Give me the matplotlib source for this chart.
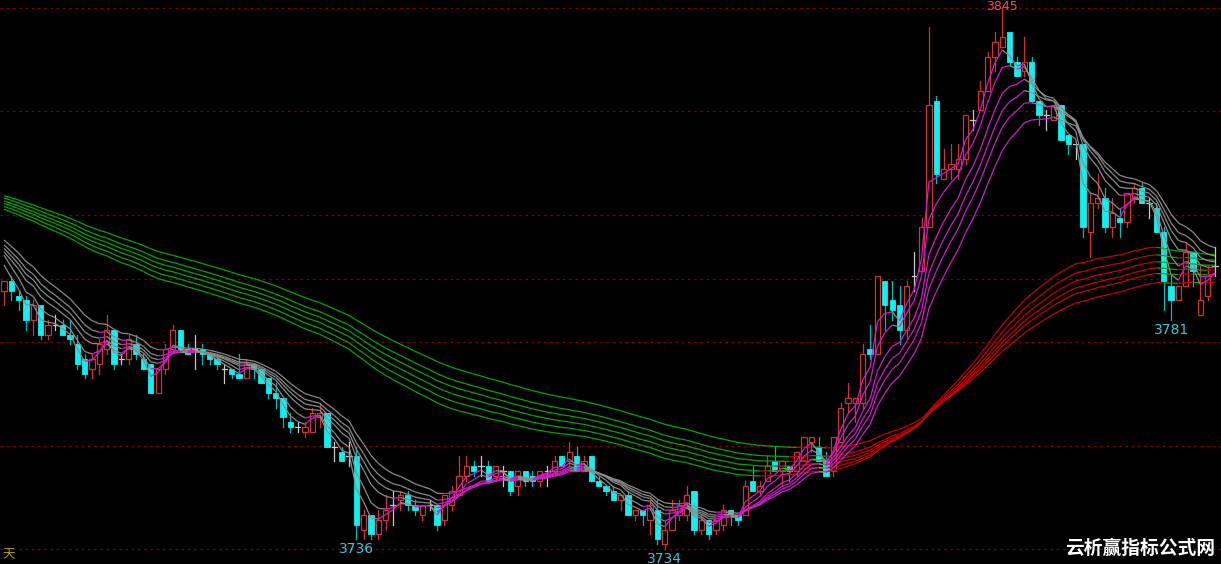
import numpy as np
import matplotlib
matplotlib.use('Agg')
import matplotlib.pyplot as plt
from matplotlib.collections import LineCollection
from matplotlib.patches import Rectangle

# ---------------- data ----------------
opens = [3787,3789,3786,3785,3781,3784,3778,3780,3780,3778,
         3776,3773,3771,3772,3775,3779,3773,3773,3776,3773,
         3772,3766,3771,3775,3779,3775,3775,3775,3774,3773,
         3771,3771,3770,3769,3772,3771,3769,3766,3765,3760,
         3759,3758,3758,3761,3762,3755,3754,3753,3753,3738,
         3741,3737,3740,3743,3744,3745,3743,3741,3743,3743,
         3740,3743,3745,3749,3751,3751,3751,3749,3750,3750,
         3747,3750,3749,3748,3750,3750,3753,3752,3753,3750,
         3753,3748,3747,3746,3744,3745,3741,3742,3740,3742,
         3735,3738,3741,3741,3746,3738,3740,3738,3739,3742,
         3741,3741,3748,3746,3748,3752,3750,3751,3750,3752,
         3756,3755,3752,3750,3756,3764,3764,3764,3775,3774,
         3789,3785,3784,3779,3790,3791,3800,3826,3810,3812,
         3812,3814,3822,3824,3828,3835,3837,3840,3834,3832,
         3834,3826,3823,3822,3825,3819,3817,3817,3799,3805,
         3806,3800,3802,3801,3806,3808,3805,3804,3799,3788,
         3785,3788,3795,3782,3786,3792]
highs = [3789,3790,3787,3786,3785,3784,3781,3782,3781,3781,
         3778,3774,3774,3777,3782,3779,3774,3778,3778,3774,
         3772,3771,3776,3780,3779,3776,3778,3776,3774,3774,
         3772,3771,3774,3773,3772,3771,3769,3768,3765,3762,
         3760,3760,3763,3764,3762,3756,3755,3756,3755,3742,
         3741,3742,3745,3746,3746,3746,3744,3743,3744,3743,
         3745,3747,3753,3753,3752,3753,3752,3751,3751,3750,
         3750,3750,3750,3750,3751,3753,3753,3756,3755,3753,
         3753,3749,3747,3747,3745,3746,3742,3742,3744,3744,
         3740,3744,3744,3747,3746,3741,3740,3740,3743,3742,
         3741,3748,3751,3748,3753,3755,3752,3751,3754,3757,
         3757,3757,3754,3757,3764,3768,3765,3776,3780,3790,
         3789,3789,3788,3789,3795,3802,3841,3827,3816,3817,
         3817,3823,3824,3830,3836,3840,3845,3840,3835,3839,
         3835,3826,3824,3825,3825,3819,3817,3817,3807,3811,
         3808,3806,3804,3807,3809,3809,3806,3805,3800,3790,
         3788,3797,3795,3792,3792,3796]
lows = [3784,3785,3783,3779,3778,3777,3777,3779,3778,3776,
        3771,3769,3769,3770,3774,3771,3772,3772,3773,3771,
        3766,3766,3770,3775,3775,3774,3771,3772,3772,3771,
        3768,3769,3769,3769,3769,3768,3765,3763,3759,3758,
        3758,3757,3758,3759,3755,3752,3752,3751,3736,3736,
        3736,3736,3738,3739,3742,3742,3741,3740,3742,3738,
        3739,3742,3745,3748,3749,3749,3748,3748,3747,3745,
        3745,3747,3747,3747,3747,3749,3751,3751,3750,3750,
        3748,3747,3745,3744,3742,3741,3740,3739,3737,3735,
        3734,3738,3740,3740,3737,3737,3736,3737,3738,3739,
        3739,3741,3746,3745,3748,3750,3747,3748,3749,3752,
        3754,3752,3749,3749,3756,3762,3760,3763,3773,3774,
        3779,3781,3776,3777,3787,3791,3800,3809,3810,3810,
        3810,3813,3820,3824,3828,3832,3837,3833,3831,3831,
        3826,3821,3820,3822,3818,3815,3814,3798,3794,3804,
        3799,3798,3798,3800,3805,3805,3802,3799,3783,3781,
        3785,3788,3788,3782,3785,3790]
closes = [3789,3787,3785,3781,3784,3778,3780,3780,3778,3777,
          3772,3770,3773,3776,3779,3772,3773,3777,3774,3771,
          3766,3771,3775,3779,3775,3774,3775,3774,3773,3772,
          3771,3770,3769,3772,3771,3768,3766,3765,3761,3759,
          3759,3759,3762,3762,3755,3755,3752,3753,3739,3741,
          3737,3740,3742,3743,3745,3743,3742,3743,3743,3739,
          3745,3746,3749,3751,3750,3751,3748,3751,3750,3746,
          3750,3748,3748,3750,3750,3752,3751,3754,3750,3752,
          3748,3747,3746,3744,3745,3741,3742,3741,3743,3736,
          3738,3742,3743,3745,3738,3740,3737,3740,3742,3741,
          3740,3747,3746,3747,3751,3750,3752,3750,3754,3757,
          3757,3752,3749,3757,3763,3765,3765,3774,3774,3790,
          3784,3783,3779,3788,3790,3800,3825,3811,3812,3813,
          3814,3823,3822,3828,3835,3838,3839,3834,3831,3834,
          3826,3823,3823,3825,3818,3817,3817,3800,3805,3806,
          3800,3803,3801,3807,3808,3805,3805,3799,3789,3785,
          3788,3795,3791,3785,3790,3792]

short_periods = [3, 5, 8, 10, 12, 15]
short_seeds = [3792.3, 3794.3, 3795.0, 3795.7, 3796.4, 3797.4]
long_periods = [60, 65, 70, 75, 80, 90]
long_seeds = [3803.7, 3804.3, 3804.9, 3805.4, 3806.0, 3806.5]

fib_high = 3845
fib_low = 3734
fib_ratios = [0.0, 0.191, 0.382, 0.5, 0.618, 0.809, 1.0]

high_label_idx = 136
low_label_idx = [48, 90, 159]

# ---------------- styling ----------------
BG = '#000000'
UP = '#d03434'
DOWN = '#10f0f0'
DOWN_WICK = '#00b8b8'
DOJI = '#c8c8c8'
GRID = '#8a0000'
SHORT_UP = '#d21cc8'
SHORT_DN = '#8c8c8c'
LONG_UP = '#c80000'
LONG_DN = '#00a800'
BODY_W = 0.72

n = len(closes)
x = np.arange(n)

fig = plt.figure(figsize=(12.21, 5.64), dpi=100, facecolor=BG)
ax = fig.add_axes([0, 0, 1, 1], facecolor=BG)
ax.set_xlim(-0.545, 165.8)
ax.set_ylim(3730.93, 3846.64)
ax.axis('off')

# fibonacci grid
for r in fib_ratios:
    lvl = fib_high - (fib_high - fib_low) * r
    ax.axhline(lvl, color=GRID, lw=0.9, ls=(0, (2, 3)), zorder=1)

# candles
for i in range(n):
    o, h, l, c = opens[i], highs[i], lows[i], closes[i]
    if c > o:
        ax.add_patch(Rectangle((i - BODY_W / 2, o), BODY_W, c - o,
                               facecolor=BG, edgecolor=UP, lw=0.9, zorder=3))
        if h > c:
            ax.plot([i, i], [c, h], color=UP, lw=0.9, zorder=2)
        if l < o:
            ax.plot([i, i], [l, o], color=UP, lw=0.9, zorder=2)
    elif c < o:
        ax.plot([i, i], [l, h], color=DOWN_WICK, lw=0.9, zorder=2)
        ax.add_patch(Rectangle((i - BODY_W / 2, c), BODY_W, o - c,
                               facecolor=DOWN, edgecolor=DOWN, lw=0.6, zorder=3))
    else:
        ax.plot([i, i], [l, h], color=DOJI, lw=0.9, zorder=3)
        ax.plot([i - BODY_W / 2, i + BODY_W / 2], [c, c], color=DOJI, lw=0.9, zorder=3)


def ema(values, period, seed):
    a = 2.0 / (period + 1)
    out = np.empty(len(values))
    out[0] = seed
    for k in range(1, len(values)):
        out[k] = a * values[k] + (1 - a) * out[k - 1]
    return out


def draw_group(periods, seeds, up_col, dn_col, z):
    for p, s in zip(periods, seeds):
        e = ema(np.asarray(closes, float), p, s)
        segs = [[(x[k - 1], e[k - 1]), (x[k], e[k])] for k in range(1, n)]
        cols = [up_col if e[k] >= e[k - 1] else dn_col for k in range(1, n)]
        ax.add_collection(LineCollection(segs, colors=cols, linewidths=0.9, zorder=z))


draw_group(long_periods, long_seeds, LONG_UP, LONG_DN, 4)
draw_group(short_periods, short_seeds, SHORT_UP, SHORT_DN, 5)

# extreme labels
ax.annotate(str(highs[high_label_idx]), xy=(high_label_idx, 3846.64),
            xytext=(0, -0.3), textcoords='offset points', ha='center', va='top',
            color='#ff4a4a', fontsize=9, zorder=6)
for idx in low_label_idx:
    ax.annotate(str(lows[idx]), xy=(idx, lows[idx]), xytext=(0, -2),
                textcoords='offset points', ha='center', va='top',
                color='#3cc8dc', fontsize=10, zorder=6)

fig.text(0.002, 0.004, '天', color='#a8a020', fontsize=9,
         family=['Noto Sans CJK SC', 'DejaVu Sans'], ha='left', va='bottom')
fig.text(0.995, 0.011, '云析赢指标公式网', color='white', fontsize=13.5, fontweight='bold',
         family=['Noto Sans CJK SC', 'DejaVu Sans'], ha='right', va='bottom')

fig.savefig('out.png', dpi=100, facecolor=BG)
